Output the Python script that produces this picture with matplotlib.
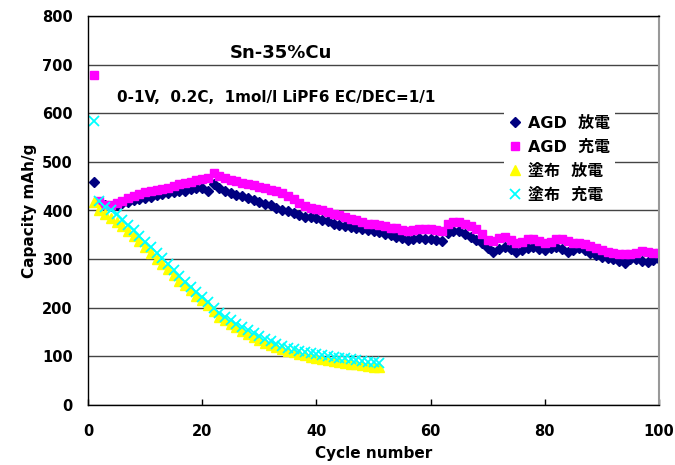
import numpy as np
import matplotlib
matplotlib.use("Agg")
import matplotlib.pyplot as plt

# === DATA ===
agd_cycles = list(range(1, 101))
agd_discharge = [
    458, 415, 412, 410, 412, 416, 418, 421, 424, 426,
    428, 431, 434, 436, 438, 440, 441, 444, 446, 447,
    441, 455, 446, 440, 436, 432, 430, 426, 422, 418,
    414, 412, 406, 400, 398, 394, 390, 387, 386, 384,
    380, 378, 372, 370, 368, 366, 365, 362, 360, 358,
    356, 352, 350, 346, 344, 340, 341, 343, 342, 341,
    340, 338, 354, 358, 357, 352, 346, 340, 334, 322,
    314, 320, 325, 320, 314, 318, 322, 325, 320, 318,
    322, 325, 320, 314, 318, 322, 318, 312, 308, 305,
    302, 300, 296, 293, 300, 301, 296, 294, 298, 301,
]
agd_charge = [
    678, 420, 412, 412, 416, 420, 425, 430, 434, 438,
    440, 442, 445, 447, 450, 454, 456, 458, 462, 465,
    466, 477, 470, 466, 462, 460, 457, 455, 452, 449,
    446, 442, 440, 437, 430, 424, 416, 410, 406, 404,
    400, 396, 392, 390, 386, 382, 380, 376, 373, 373,
    370, 368, 365, 363, 360, 358, 359, 362, 361, 362,
    360, 358, 372, 377, 376, 372, 368, 362, 352, 340,
    338, 344, 345, 340, 334, 336, 342, 342, 338, 334,
    336, 341, 342, 338, 334, 334, 332, 328, 322, 318,
    314, 312, 310, 310, 310, 312, 316, 314, 312, 312,
]

coat_cycles = list(range(1, 52))
coat_discharge = [
    418, 400, 392, 384, 376, 368, 358, 348, 337, 325,
    312, 300, 290, 279, 268, 256, 246, 236, 225, 215,
    205, 193, 182, 174, 166, 160, 153, 146, 140, 134,
    128, 124, 120, 115, 112, 108, 105, 102, 99, 97,
    95, 93, 91, 89, 87, 85, 84, 82, 80, 79,
    78,
]
coat_charge = [
    585, 420, 408, 400, 392, 380, 370, 360, 348, 336,
    325, 312, 302, 291, 278, 265, 252, 242, 232, 222,
    212, 200, 190, 182, 174, 166, 160, 154, 148, 142,
    136, 131, 126, 122, 118, 115, 112, 109, 107, 105,
    103, 101, 99, 97, 96, 94, 92, 90, 89, 88,
    86,
]

labels = ["AGD  放電", "AGD  充電", "塗布  放電", "塗布  充電"]
title_text = "Sn-35%Cu"
cond_text = "0-1V,  0.2C,  1mol/l LiPF6 EC/DEC=1/1"

plt.rcParams['font.family'] = ['DejaVu Sans', 'Noto Sans CJK JP']
plt.rcParams['font.weight'] = 'bold'

fig = plt.figure(figsize=(6.75, 4.65), dpi=100)
ax = fig.add_axes([88 / 675, 60 / 465, 571 / 675, 389 / 465])

ax.plot(agd_cycles, agd_discharge, linestyle='none', marker='D',
        markersize=5.5, color='#000080', label=labels[0])
ax.plot(agd_cycles, agd_charge, linestyle='none', marker='s',
        markersize=6, color='#FF00FF', label=labels[1])
ax.plot(coat_cycles, coat_discharge, linestyle='none', marker='^',
        markersize=7.5, color='#FFFF00', label=labels[2])
ax.plot(coat_cycles, coat_charge, linestyle='none', marker='x',
        markersize=7, markeredgewidth=1.3, color='#00FFFF', label=labels[3])

ax.set_xlim(0, 100)
ax.set_ylim(0, 800)
ax.set_xticks(range(0, 101, 20))
ax.set_yticks(range(0, 801, 100))
ax.yaxis.grid(True, color='#444444', linewidth=1.0)
ax.set_axisbelow(True)

ax.tick_params(axis='x', direction='in', length=4, width=1, pad=14,
               labelsize=10.5)
ax.tick_params(axis='y', length=0, pad=11, labelsize=10.5)
for lab in ax.get_xticklabels() + ax.get_yticklabels():
    lab.set_fontweight('bold')

for side in ['left', 'bottom', 'top']:
    ax.spines[side].set_color('black')
    ax.spines[side].set_linewidth(1.0)
ax.spines['right'].set_color('#999999')
ax.spines['right'].set_linewidth(1.5)

ax.set_xlabel("Cycle number", fontsize=11, fontweight='bold')
ax.set_ylabel("Capacity mAh/g", fontsize=11, fontweight='bold')
ax.xaxis.set_label_coords(0.5, -0.105)
ax.yaxis.set_label_coords(-0.089, 0.5)

ax.text(33.8, 724, title_text, ha='center', va='center', fontsize=13)
ax.text(5.1, 632, cond_text, ha='left', va='center', fontsize=11)

leg = ax.legend(loc='upper left', bbox_to_anchor=(0.728, 0.756),
                borderaxespad=0, frameon=True, fancybox=False,
                handlelength=0.8, handletextpad=0.4, labelspacing=0.56,
                borderpad=0.3,
                prop={'family': ['DejaVu Sans', 'Noto Sans CJK JP'],
                      'weight': 'bold', 'size': 11.5})
leg.get_frame().set_facecolor('white')
leg.get_frame().set_edgecolor('none')
leg.get_frame().set_alpha(1.0)

fig.savefig("out.png", dpi=100)
